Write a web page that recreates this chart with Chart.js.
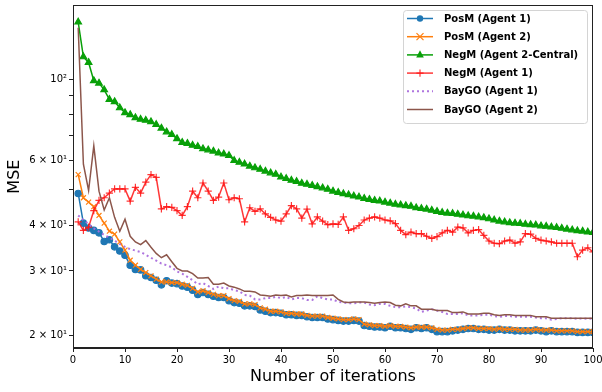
<!DOCTYPE html>
<html>
<head>
<meta charset="utf-8">
<script src="https://cdn.jsdelivr.net/npm/chart.js@4.4.0/dist/chart.umd.min.js"></script>
<style>
  html, body { margin: 0; padding: 0; background: #fff; }
  #wrap { width: 602px; height: 392px; }
</style>
</head>
<body>
<div id="wrap"><canvas id="chart" width="602" height="392"></canvas></div>
<script>
// DATA
const iterations = Array.from({ length: 100 }, (_, k) => k + 1);

const posmAgent1 = [
  48.8, 40.5, 39.3, 38.7, 38.1, 36.1, 36.5, 34.9, 34.0, 33.1,
  31.1, 30.3, 30.2, 29.1, 28.8, 28.3, 27.5, 28.2, 27.8, 27.7,
  27.3, 27.1, 26.6, 25.9, 26.2, 25.9, 25.6, 25.4, 25.4, 24.9,
  24.6, 24.5, 24.1, 24.1, 24.0, 23.5, 23.3, 23.1, 23.1, 23.0,
  22.8, 22.8, 22.7, 22.7, 22.5, 22.4, 22.4, 22.4, 22.2, 22.1,
  22.0, 21.9, 21.9, 22.0, 21.9, 21.3, 21.2, 21.1, 21.1, 21.0,
  21.2, 21.0, 21.0, 20.9, 20.8, 21.0, 20.9, 21.0, 20.8, 20.5,
  20.5, 20.5, 20.6, 20.7, 20.8, 20.9, 20.9, 20.8, 20.8, 20.7,
  20.7, 20.8, 20.7, 20.7, 20.6, 20.6, 20.6, 20.6, 20.7, 20.6,
  20.5, 20.6, 20.5, 20.5, 20.5, 20.5, 20.4, 20.4, 20.4, 20.4
];
const posmAgent2 = [
  54.9, 47.5, 46.2, 44.9, 42.5, 40.5, 38.5, 37.8, 36.0, 34.2,
  32.1, 31.1, 30.3, 29.7, 29.1, 28.5, 28.0, 28.0, 27.9, 27.9,
  27.6, 27.4, 26.9, 26.3, 26.5, 26.2, 25.9, 25.7, 25.7, 25.2,
  24.9, 24.8, 24.4, 24.4, 24.3, 23.8, 23.6, 23.3, 23.3, 23.2,
  23.0, 23.0, 22.9, 22.9, 22.7, 22.6, 22.6, 22.6, 22.4, 22.3,
  22.2, 22.1, 22.1, 22.2, 22.1, 21.5, 21.4, 21.3, 21.3, 21.2,
  21.3, 21.2, 21.2, 21.1, 21.0, 21.1, 21.1, 21.1, 21.0, 20.8,
  20.7, 20.7, 20.8, 20.8, 20.9, 21.0, 21.0, 20.9, 20.9, 20.9,
  20.8, 20.9, 20.8, 20.8, 20.8, 20.7, 20.7, 20.7, 20.8, 20.7,
  20.7, 20.7, 20.6, 20.6, 20.6, 20.6, 20.5, 20.5, 20.5, 20.5
];
const negmAgent2Central = [
  143, 115, 111, 99.0, 97.5, 93.5, 88.0, 86.8, 83.5, 81.0,
  80.0, 78.5, 77.7, 77.2, 76.5, 75.2, 73.5, 71.8, 70.6, 68.8,
  67.2, 66.8, 66.0, 65.5, 64.6, 64.1, 63.6, 62.9, 62.5, 61.9,
  60.0, 59.3, 58.7, 57.9, 57.3, 56.8, 56.1, 55.5, 55.0, 54.1,
  53.6, 53.0, 52.6, 52.0, 51.7, 51.3, 50.9, 50.5, 50.1, 49.5,
  49.1, 48.7, 48.4, 48.0, 47.7, 47.3, 47.0, 46.7, 46.5, 46.2,
  45.9, 45.6, 45.4, 45.2, 45.0, 44.6, 44.4, 44.2, 43.9, 43.6,
  43.3, 43.1, 43.0, 42.8, 42.6, 42.4, 42.3, 42.1, 41.9, 41.6,
  41.3, 41.0, 40.8, 40.6, 40.5, 40.4, 40.2, 40.1, 40.0, 39.8,
  39.7, 39.5, 39.4, 39.2, 39.0, 38.8, 38.6, 38.5, 38.3, 38.2
];
const negmAgent1 = [
  40.8, 38.7, 39.5, 43.8, 46.7, 47.5, 48.9, 50.2, 50.2, 50.2,
  46.5, 50.7, 48.9, 52.4, 54.9, 54.0, 44.3, 44.9, 44.7, 43.8,
  42.5, 44.9, 49.5, 47.5, 52.1, 49.5, 46.7, 47.7, 52.1, 46.9,
  47.5, 47.2, 40.8, 44.6, 43.6, 44.3, 42.9, 42.0, 41.3, 41.0,
  42.9, 45.2, 44.3, 41.8, 44.2, 40.3, 42.1, 41.0, 40.1, 40.3,
  40.2, 42.1, 38.7, 39.1, 39.9, 41.3, 41.8, 42.1, 41.8, 41.3,
  41.1, 40.4, 38.7, 37.7, 38.3, 37.9, 37.9, 37.3, 36.8, 37.2,
  38.1, 38.7, 38.3, 39.5, 39.3, 38.1, 38.7, 38.9, 37.5, 36.2,
  35.7, 35.6, 36.2, 36.4, 35.7, 36.0, 37.9, 37.8, 36.8, 36.4,
  36.2, 36.0, 35.7, 35.7, 35.7, 35.7, 32.8, 34.2, 34.7, 33.8
];
const baygoAgent1 = [
  42.5, 41.3, 40.3, 39.2, 38.4, 37.6, 37.0, 36.3, 35.5, 34.9,
  34.4, 34.1, 33.8, 33.2, 32.6, 32.0, 31.4, 31.1, 30.7, 29.9,
  29.5, 28.9, 28.3, 27.6, 27.8, 27.3, 26.8, 27.2, 26.9, 26.9,
  26.6, 26.4, 25.8, 25.7, 25.1, 25.1, 25.3, 25.3, 25.5, 25.3,
  25.5, 25.1, 25.3, 25.3, 25.0, 25.0, 25.6, 25.3, 25.1, 25.1,
  24.7, 24.6, 24.5, 24.5, 24.6, 24.6, 24.3, 24.2, 24.4, 24.4,
  24.1, 23.9, 23.9, 24.0, 23.9, 23.7, 23.2, 23.4, 23.6, 23.4,
  23.2, 22.9, 22.9, 22.9, 23.0, 22.7, 22.7, 22.7, 22.8, 22.8,
  22.6, 22.5, 22.6, 22.6, 22.5, 22.5, 22.5, 22.5, 22.4, 22.3,
  22.3, 22.1, 22.2, 22.3, 22.3, 22.3, 22.2, 22.3, 22.2, 22.3
];
const baygoAgent2 = [
  138, 58.6, 49.7, 65.8, 49.5, 44.0, 47.5, 42.0, 38.5, 41.5,
  37.3, 36.0, 35.4, 36.3, 34.8, 33.5, 32.6, 33.2, 31.8, 30.5,
  30.0, 30.0, 29.5, 28.7, 28.7, 28.8, 27.6, 27.6, 27.8, 27.3,
  27.1, 26.8, 26.4, 26.4, 26.3, 25.8, 25.7, 25.6, 25.8, 25.7,
  25.8, 25.5, 25.7, 25.7, 25.8, 25.7, 25.7, 25.7, 25.7, 25.8,
  25.1, 24.7, 24.6, 24.7, 24.7, 24.7, 24.6, 24.5, 24.6, 24.7,
  24.6, 24.2, 24.1, 24.4, 24.1, 24.1, 23.6, 23.6, 23.6, 23.4,
  23.4, 23.4, 23.1, 23.1, 23.2, 22.9, 22.9, 22.9, 23.0, 23.0,
  22.8, 22.7, 22.8, 22.8, 22.7, 22.7, 22.7, 22.7, 22.5, 22.5,
  22.5, 22.3, 22.3, 22.3, 22.3, 22.3, 22.3, 22.3, 22.3, 22.3
];

const yTicks = [20, 30, 40, 50, 60, 70, 80, 90, 100];
const yTickLabels = { 20: '2 × 10¹', 30: '3 × 10¹', 40: '4 × 10¹', 60: '6 × 10¹', 100: '10²' };

// SERIES
const FONT = '"DejaVu Sans", sans-serif';
const series = [
  { label: 'PosM (Agent 1)', data: posmAgent1, color: '#1f77b4', style: 'circle', r: 3.2 },
  { label: 'PosM (Agent 2)', data: posmAgent2, color: '#ff7f0e', style: 'crossRot', r: 3.5 },
  { label: 'NegM (Agent 2-Central)', data: negmAgent2Central, color: '#08a008', style: 'triangle', r: 3.8 },
  { label: 'NegM (Agent 1)', data: negmAgent1, color: 'rgba(255,20,20,0.85)', style: 'cross', r: 3.6 },
  { label: 'BayGO (Agent 1)', data: baygoAgent1, color: 'rgba(170,110,220,0.95)', style: false, r: 0, dash: [2, 3], w: 2 },
  { label: 'BayGO (Agent 2)', data: baygoAgent2, color: '#8c564b', style: false, r: 0 }
];

const datasets = series.map((s, i) => ({
  label: s.label,
  data: s.data.map((v, k) => ({ x: iterations[k], y: v })),
  borderColor: s.color,
  backgroundColor: s.color,
  borderWidth: s.w || 1.5,
  borderDash: s.dash || [],
  pointStyle: s.style || 'circle',
  pointRadius: s.r,
  pointBorderWidth: 1.2,
  pointBackgroundColor: s.color,
  pointBorderColor: s.color,
  tension: 0,
  fill: false,
  order: series.length - i
}));

// FRAME + LEGEND
function marker(ctx, style, x, y, r) {
  ctx.beginPath();
  if (style === 'circle') {
    ctx.arc(x, y, r, 0, Math.PI * 2); ctx.fill();
  } else if (style === 'crossRot') {
    ctx.moveTo(x - r, y - r); ctx.lineTo(x + r, y + r);
    ctx.moveTo(x - r, y + r); ctx.lineTo(x + r, y - r); ctx.stroke();
  } else if (style === 'triangle') {
    ctx.moveTo(x, y - r * 1.2); ctx.lineTo(x + r, y + r * 0.7); ctx.lineTo(x - r, y + r * 0.7);
    ctx.closePath(); ctx.fill();
  } else if (style === 'cross') {
    ctx.moveTo(x - r, y); ctx.lineTo(x + r, y);
    ctx.moveTo(x, y - r); ctx.lineTo(x, y + r); ctx.stroke();
  }
}

const framePlugin = {
  id: 'frame',
  afterDraw(chart) {
    const { ctx, chartArea: a } = chart;
    ctx.save();
    ctx.strokeStyle = '#222';
    ctx.lineWidth = 1;
    ctx.strokeRect(Math.round(a.left) + 0.5, Math.round(a.top) + 0.5,
      Math.round(a.right - a.left) - 1, Math.round(a.bottom - a.top) - 1);

    // legend box
    const bx = 403, by = 10, bw = 184, bh = 113;
    ctx.beginPath();
    ctx.roundRect(bx + 0.5, by + 0.5, bw, bh, 3);
    ctx.fillStyle = 'rgba(255,255,255,0.85)';
    ctx.fill();
    ctx.strokeStyle = '#d4d4d4';
    ctx.stroke();

    ctx.font = 'bold 10px ' + FONT;
    ctx.textBaseline = 'middle';
    series.forEach((s, i) => {
      const y = 18.5 + i * 18.2;
      ctx.strokeStyle = s.color;
      ctx.fillStyle = s.color;
      ctx.lineWidth = s.w || 1.5;
      ctx.setLineDash(s.dash || []);
      ctx.beginPath(); ctx.moveTo(407, y); ctx.lineTo(433, y); ctx.stroke();
      ctx.setLineDash([]);
      ctx.lineWidth = 1.2;
      if (s.style) marker(ctx, s.style, 420, y, s.r);
      ctx.fillStyle = '#000';
      ctx.fillText(s.label, 444, y + 0.5);
    });
    ctx.restore();
  }
};

new Chart(document.getElementById('chart'), {
  type: 'line',
  data: { datasets },
  plugins: [framePlugin],
  options: {
    responsive: false,
    animation: false,
    devicePixelRatio: 1,
    layout: { padding: { left: 0, right: 9, top: 3.5, bottom: 0 } },
    plugins: { legend: { display: false }, tooltip: { enabled: false } },
    scales: {
      x: {
        type: 'linear',
        min: 0,
        max: 100,
        afterFit: s => { s.height = 44; s.paddingLeft = 0; s.paddingRight = 0; },
        ticks: { stepSize: 10, color: '#000', font: { family: FONT, size: 10 }, padding: 2, maxRotation: 0 },
        grid: { drawOnChartArea: false, tickLength: 4, color: '#222' },
        border: { display: true, color: '#222' },
        title: { display: true, text: 'Number of iterations', color: '#000',
          font: { family: FONT, size: 16 }, padding: { top: 0, bottom: 5.7 } }
      },
      y: {
        type: 'logarithmic',
        min: 18.5,
        max: 159,
        afterFit: s => { s.width = 73; s.paddingTop = 0; s.paddingBottom = 0; },
        afterBuildTicks: s => { s.ticks = yTicks.map(v => ({ value: v })); },
        ticks: { autoSkip: false, color: '#000', font: { family: FONT, size: 10 }, padding: 2,
          callback: v => yTickLabels[v] || '' },
        grid: { drawOnChartArea: false, tickLength: 4, color: '#222' },
        border: { display: true, color: '#222' },
        title: { display: true, text: 'MSE', color: '#000',
          font: { family: FONT, size: 16 }, padding: { top: 5.4, bottom: 0 } }
      }
    }
  }
});
</script>
</body>
</html>
